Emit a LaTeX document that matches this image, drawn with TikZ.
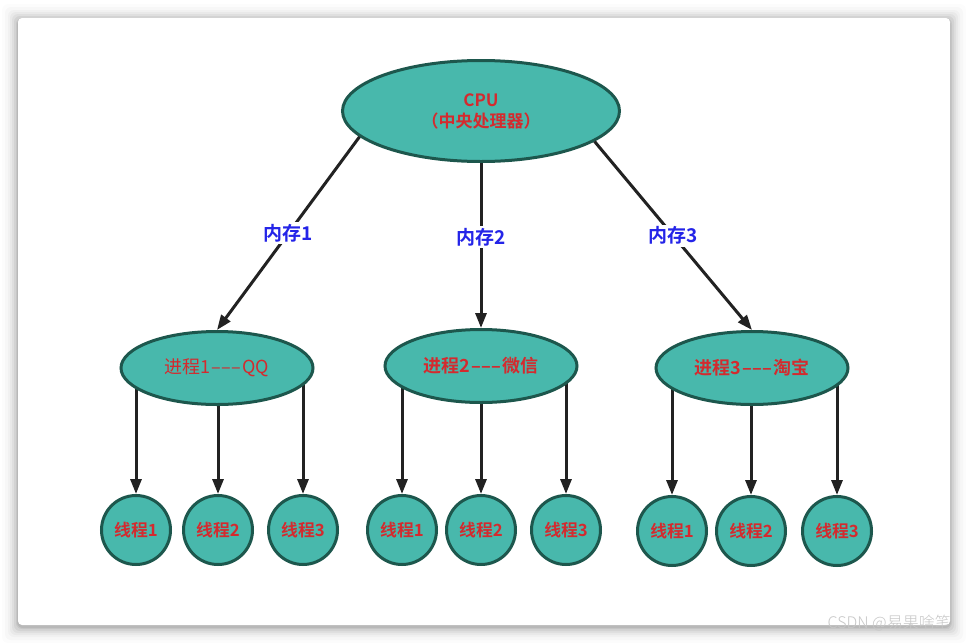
\documentclass[tikz,border=0pt]{standalone}
\usepackage{fontspec}
\setmainfont{Noto Sans CJK SC}
\newfontfamily\cjkb{Noto Sans CJK SC Bold}
\newfontfamily\wmfont{Noto Sans CJK SC Light}
\usetikzlibrary{shapes.geometric,arrows.meta}
\definecolor{tealfill}{HTML}{48B8AC}
\definecolor{tealline}{HTML}{1D574D}
\definecolor{redtxt}{HTML}{D42A2E}
\definecolor{bluetxt}{HTML}{2424E8}
\definecolor{arrowc}{HTML}{222222}
\pgfdeclarelayer{card}
\pgfdeclarelayer{background}
\pgfsetlayers{card,background,main}
\newcommand\trip{\kern1pt–\kern0.5pt–\kern0.5pt–\kern1pt}
\tikzset{
  bubble/.style={ellipse, draw=tealline, fill=tealfill, line width=3pt, inner sep=0pt, text=redtxt, align=center},
  cpubox/.style={bubble, minimum width=277pt, minimum height=101pt, font=\cjkb\fontsize{17}{21}\selectfont},
  procbox/.style={bubble, minimum width=192pt, minimum height=73pt, font=\fontsize{18}{20}\selectfont},
  procbold/.style={procbox, font=\cjkb\fontsize{18}{20}\selectfont},
  thread/.style={circle, draw=tealline, fill=tealfill, line width=3pt, inner sep=0pt, minimum size=69pt, text=redtxt, font=\cjkb\fontsize{16.8}{18}\selectfont},
  conn/.style={draw=arrowc, line width=3pt, -{Triangle[length=15pt,width=11pt]}},
  memlabel/.style={fill=white, inner sep=2pt, text=bluetxt, font=\cjkb\fontsize{19}{21}\selectfont},
}
\begin{document}
\begin{tikzpicture}[x=1pt, y=-1pt]
\useasboundingbox (0,0) rectangle (969,643);
\begin{pgfonlayer}{card}
\fill[white] (0,0) rectangle (969,643);
\foreach \d/\o in {16/0.012,13/0.018,10/0.025,8/0.032,6/0.04,4/0.05,2/0.06,1/0.07}{
  \fill[black, opacity=\o, rounded corners=6pt] (18-\d,18-\d+2) rectangle (950+\d,625+\d+2);
}
\fill[white, rounded corners=4pt] (18,18) rectangle (950,625);
\end{pgfonlayer}

\node[cpubox] (cpu) at (481,111) {CPU\\（中央处理器）};
\node[procbox] (p1) at (217,368) {进程1\trip QQ};
\node[procbold] (p2) at (481,366) {进程2\trip 微信};
\node[procbold] (p3) at (752,368) {进程3\trip 淘宝};

\node[thread] (t11) at (136,530) {线程1};
\node[thread] (t12) at (218,530) {线程2};
\node[thread] (t13) at (303,530) {线程3};
\node[thread] (t21) at (402,530) {线程1};
\node[thread] (t22) at (481,530) {线程2};
\node[thread] (t23) at (566,530) {线程3};
\node[thread] (t31) at (672,531) {线程1};
\node[thread] (t32) at (751,531) {线程2};
\node[thread] (t33) at (837,531) {线程3};

\draw[conn] (cpu.192) -- node[memlabel, pos=0.5] {内存1} (p1.north);
\draw[conn] (cpu.south) -- node[memlabel, pos=0.45] {内存2} (p2.north);
\draw[conn] (cpu.-15) -- node[memlabel, pos=0.5] {内存3} (p3.north);

\begin{pgfonlayer}{background}
\foreach \p/\a/\b/\c in {p1/t11/t12/t13, p2/t21/t22/t23, p3/t31/t32/t33}{
  \draw[conn] (\p.center -| \a.north) -- (\a.north);
  \draw[conn] (\p.center -| \b.north) -- (\b.north);
  \draw[conn] (\p.center -| \c.north) -- (\c.north);
}
\end{pgfonlayer}

\node[text=black!22, font=\wmfont\fontsize{16}{18}\selectfont, anchor=east, inner sep=0pt] (wm) at (951,623) {CSDN @易果啥笔};
\end{tikzpicture}
\end{document}
